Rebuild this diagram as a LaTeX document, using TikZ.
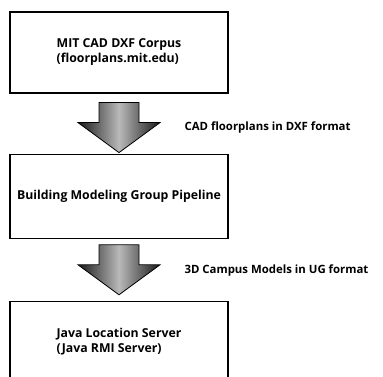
\documentclass[tikz,border=0pt]{standalone}
\usepackage{fontspec}
\setmainfont{Open Sans}
\usetikzlibrary{positioning,calc}

% block arrow between two boxes: from, to, gap at top, gap at tip
\newcommand{\blockarrow}[4]{%
    \path ($(#1.south)+(0,-#3)$) coordinate (top)
          ($(#2.north)+(0,#4)$) coordinate (tip)
          ($(top)!0.4!(tip)$) coordinate (neck);
    \draw[bigarrow] ([xshift=-20pt]top) -- ([xshift=20pt]top) -- ([xshift=20pt]neck)
        -- ([xshift=41pt]neck) -- (tip) -- ([xshift=-41pt]neck) -- ([xshift=-20pt]neck) -- cycle;
}

\begin{document}
\begin{tikzpicture}[
    x=1pt, y=1pt,
    node distance=60pt,
    box/.style={rectangle, draw, line width=1.2pt, minimum width=218pt, minimum height=81pt, align=left, font=\bfseries\fontsize{12.3}{15}\selectfont},
    lbl/.style={anchor=west, font=\bfseries\fontsize{11.4}{14}\selectfont},
    bigarrow/.style={draw=black, line width=0.8pt, left color=black!90, right color=black!90, middle color=gray!55}
]
    \useasboundingbox (0,0) rectangle (383,-377);

    % Boxes
    \node[box] (corpus) at (119,-52.5) {MIT CAD DXF Corpus\\(floorplans.mit.edu)};
    \node[box, minimum height=84pt, below=of corpus] (pipeline) {Building Modeling Group Pipeline};
    \node[box, text height=48pt, text depth=70pt, below=62pt of pipeline] (server) {Java Location Server\\(Java RMI Server)};

    % Arrows
    \blockarrow{corpus}{pipeline}{9}{1}
    \blockarrow{pipeline}{server}{6}{6}

    % Arrow labels
    \node[lbl] (dxflbl) at ($(corpus.south)!0.5!(pipeline.north)+(62,-4)$) {CAD floorplans in DXF format};
    \node[lbl] (uglbl) at ($(pipeline.south)!0.5!(server.north)+(62,-1)$) {3D Campus Models in UG format};

\end{tikzpicture}
\end{document}
